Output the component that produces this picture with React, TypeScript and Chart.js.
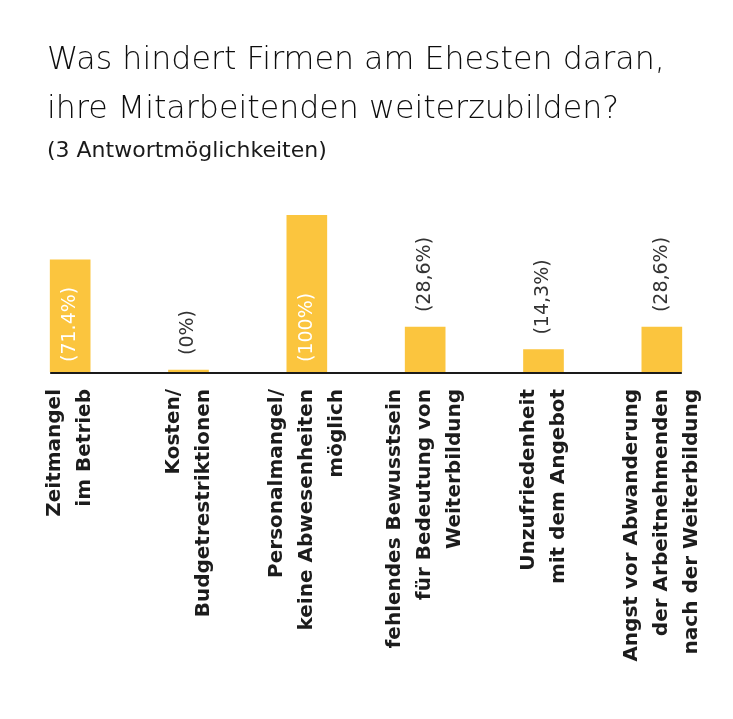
import { useEffect, useRef } from "react";
import { Chart, registerables } from "chart.js";

Chart.register(...registerables);

const titleLines = ["Was hindert Firmen am Ehesten daran,", "ihre Mitarbeitenden weiterzubilden?"];
const subtitle = "(3 Antwortmöglichkeiten)";

const categories = [
  ["Zeitmangel", "im Betrieb"],
  ["Kosten/", "Budgetrestriktionen"],
  ["Personalmangel/", "keine Abwesenheiten", "möglich"],
  ["fehlendes Bewusstsein", "für Bedeutung von", "Weiterbildung"],
  ["Unzufriedenheit", "mit dem Angebot"],
  ["Angst vor Abwanderung", "der Arbeitnehmenden", "nach der Weiterbildung"],
];
const values = [71.4, 0, 100, 28.6, 14.3, 28.6];
const valueLabels = ["(71.4%)", "(0%)", "(100%)", "(28,6%)", "(14,3%)", "(28,6%)"];

const FONT = "'DejaVu Sans', sans-serif";
const BAR_COLOR = "#FBC53E";
const TEXT_COLOR = "#1c1c1c";

// title + subtitle drawn at fixed spots above the plot
const headerPlugin = {
  id: "header",
  afterDraw(chart) {
    const ctx = chart.ctx;
    ctx.save();
    ctx.fillStyle = "#0d0d0d";
    ctx.textAlign = "left";
    ctx.textBaseline = "alphabetic";
    ctx.font = `200 31.7px ${FONT}`;
    ctx.fillText(titleLines[0], 47, 69);
    ctx.fillText(titleLines[1], 47, 118);
    ctx.fillStyle = "#1a1a1a";
    ctx.font = `22px ${FONT}`;
    ctx.fillText(subtitle, 47, 157);
    ctx.restore();
  },
};

// baseline, value labels and rotated category labels
const barTextPlugin = {
  id: "barText",
  afterDatasetsDraw(chart) {
    const ctx = chart.ctx;
    const meta = chart.getDatasetMeta(0);
    const bars = meta.data;
    const yZero = chart.scales.y.getPixelForValue(0);
    ctx.save();

    // axis line
    const first = bars[0];
    const last = bars[bars.length - 1];
    ctx.strokeStyle = "#1a1a1a";
    ctx.lineWidth = 2;
    ctx.beginPath();
    ctx.moveTo(first.x - first.width / 2, yZero + 1);
    ctx.lineTo(last.x + last.width / 2, yZero + 1);
    ctx.stroke();

    // value labels
    ctx.font = `19px ${FONT}`;
    ctx.textAlign = "left";
    ctx.textBaseline = "middle";
    bars.forEach((bar, i) => {
      const inside = values[i] >= 50;
      const start = inside ? bar.base - 10 : bar.y - 15;
      ctx.fillStyle = inside ? "#ffffff" : "#333333";
      ctx.save();
      ctx.translate(bar.x, start);
      ctx.rotate(-Math.PI / 2);
      ctx.fillText(valueLabels[i], 0, 0);
      ctx.restore();
    });

    // category labels
    ctx.font = `bold 20px ${FONT}`;
    ctx.textAlign = "right";
    ctx.fillStyle = TEXT_COLOR;
    const lineHeight = 30;
    const x = chart.scales.x;
    categories.forEach((lines, i) => {
      const cx = x.getPixelForValue(i);
      lines.forEach((line, j) => {
        const lx = cx + (j - (lines.length - 1) / 2) * lineHeight;
        ctx.save();
        ctx.translate(lx, yZero + 17);
        ctx.rotate(-Math.PI / 2);
        ctx.fillText(line, 0, 0);
        ctx.restore();
      });
    });
    ctx.restore();
  },
};

const App = () => {
  const chartRef = useRef(null);
  const chartInstance = useRef(null);

  useEffect(() => {
    document.body.style.margin = "0";
    if (chartInstance.current) {
      chartInstance.current.destroy();
    }
    if (chartRef.current) {
      chartInstance.current = new Chart(chartRef.current, {
        type: "bar",
        data: {
          labels: categories.map((c) => c.join(" ")),
          datasets: [
            {
              data: values,
              backgroundColor: BAR_COLOR,
              borderWidth: 0,
              barThickness: 40,
              minBarLength: 2,
            },
          ],
        },
        options: {
          responsive: true,
          maintainAspectRatio: false,
          animation: false,
          layout: {
            padding: { top: 215, bottom: 347, left: 11, right: 12 },
          },
          plugins: {
            legend: { display: false },
            tooltip: { enabled: false },
          },
          scales: {
            x: { display: false },
            y: { display: false, min: 0, max: 100 },
          },
        },
        plugins: [headerPlugin, barTextPlugin],
      });
    }
    return () => {
      if (chartInstance.current) {
        chartInstance.current.destroy();
        chartInstance.current = null;
      }
    };
  }, []);

  return (
    <div style={{ width: "733px", height: "719px", background: "#ffffff" }}>
      <canvas ref={chartRef} />
    </div>
  );
};

export default App;
